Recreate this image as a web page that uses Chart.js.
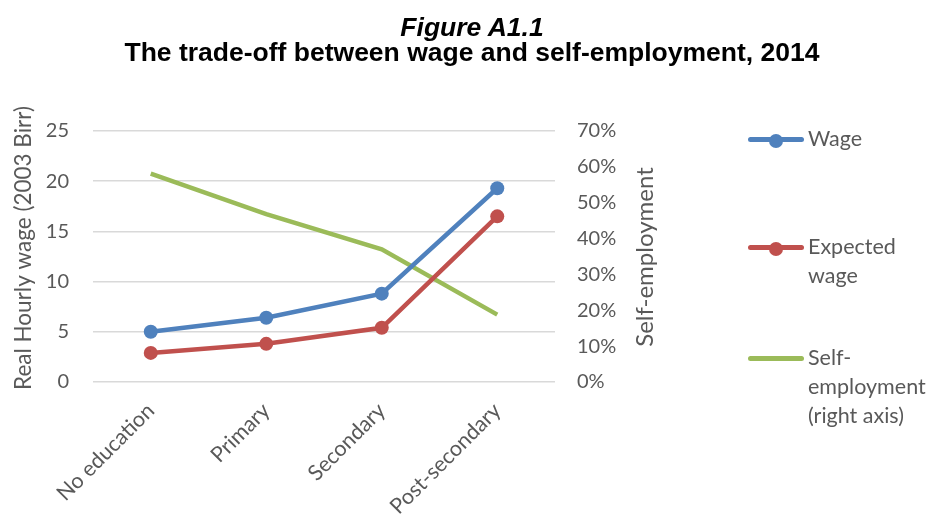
<!DOCTYPE html>
<html>
<head>
<meta charset="utf-8">
<script src="https://cdn.jsdelivr.net/npm/chart.js@4"></script>
<style>
  body { margin: 0; background: #fff; }
  #wrap { position: relative; width: 935px; height: 515px; overflow: hidden; }
  #title { position: absolute; left: 0; top: 15px; width: 944px; text-align: center;
           font-family: "Liberation Sans", Arial, sans-serif; font-weight: bold; font-size: 26.5px;
           line-height: 25px; color: #000; }
  #legend { position: absolute; left: 748px; top: 0; font-family: Lato, sans-serif;
            font-size: 21.5px; color: #595959; }
  .item { position: absolute; left: 0; width: 190px; }
  .swatch { position: absolute; left: 0; width: 56px; height: 5px; border-radius: 3px; }
  .dot { position: absolute; left: 21px; top: -5px; width: 14px; height: 14px; border-radius: 50%; }
  .txt { position: absolute; left: 60px; line-height: 29px; white-space: nowrap; }
</style>
</head>
<body>
<div id="wrap">
  <div id="title"><i>Figure A1.1</i><br>The trade-off between wage and self-employment, 2014</div>
  <canvas id="chart" width="935" height="515"></canvas>
  <div id="legend"></div>
</div>
<script>
const categories = ['No education', 'Primary', 'Secondary', 'Post-secondary'];
const wage = [5.0, 6.4, 8.8, 19.3];
const expectedWage = [2.9, 3.8, 5.4, 16.5];
const selfEmployment = [58.1, 46.8, 37.0, 18.8];
const leftTicks = [0, 5, 10, 15, 20, 25];
const rightTicks = [0, 10, 20, 30, 40, 50, 60, 70];

const txtColor = '#595959';
const gridColor = '#D9D9D9';
const tickFont = { family: 'Lato', size: 20 };

// axis titles: both read bottom to top, placed like the original
const axisTitles = {
    id: 'axisTitles',
    afterDraw(chart) {
        const ctx = chart.ctx;
        const drawUp = (text, x, y, size) => {
            ctx.save();
            ctx.translate(x, y);
            ctx.rotate(-Math.PI / 2);
            ctx.font = size + 'px Lato';
            ctx.fillStyle = txtColor;
            ctx.textAlign = 'center';
            ctx.textBaseline = 'middle';
            ctx.fillText(text, 0, 0);
            ctx.restore();
        };
        drawUp('Real Hourly wage (2003 Birr)', 24, 248, 22.5);
        drawUp('Self-employment', 645, 257, 24);
    }
};

const chart = new Chart(document.getElementById('chart'), {
    type: 'line',
    data: {
        labels: categories,
        datasets: [{
            label: 'Wage',
            data: wage,
            borderColor: '#4F81BD',
            backgroundColor: '#4F81BD',
            borderWidth: 4.5,
            pointRadius: 7,
            pointBorderWidth: 0,
            yAxisID: 'y'
        }, {
            label: 'Expected wage',
            data: expectedWage,
            borderColor: '#C0504D',
            backgroundColor: '#C0504D',
            borderWidth: 4.5,
            pointRadius: 7,
            pointBorderWidth: 0,
            yAxisID: 'y'
        }, {
            label: 'Self-employment (right axis)',
            data: selfEmployment,
            borderColor: '#9BBB59',
            backgroundColor: '#9BBB59',
            borderWidth: 4.5,
            pointRadius: 0,
            yAxisID: 'y1'
        }]
    },
    options: {
        responsive: false,
        animation: false,
        layout: { padding: { top: 131, left: 0, right: 270, bottom: 0 } },
        plugins: {
            legend: { display: false },
            tooltip: { enabled: false }
        },
        scales: {
            x: {
                offset: true,
                grid: { display: false, drawTicks: false },
                border: { display: false },
                ticks: { color: txtColor, font: { family: 'Lato', size: 21.5 },
                         minRotation: 45, maxRotation: 45, padding: 16 },
                afterFit: s => { s.height = 133; }
            },
            y: {
                position: 'left',
                min: 0,
                max: 25,
                afterBuildTicks: s => { s.ticks = leftTicks.map(v => ({ value: v })); },
                grid: { color: gridColor, lineWidth: 1.5, drawTicks: false },
                border: { display: false },
                ticks: { color: txtColor, font: tickFont, padding: 24 },
                afterFit: s => { s.width = 93; }
            },
            y1: {
                position: 'right',
                min: 0,
                max: 70,
                afterBuildTicks: s => { s.ticks = rightTicks.map(v => ({ value: v })); },
                grid: { display: false, drawTicks: false },
                border: { display: false },
                ticks: { color: txtColor, font: tickFont, padding: 22, callback: v => v + '%' },
                afterFit: s => { s.width = 110; }
            }
        }
    },
    plugins: [axisTitles]
});

// legend built from the datasets
const legendLines = [['Wage'], ['Expected', 'wage'], ['Self-', 'employment', '(right axis)']];
const legendTops = [139, 247, 358];
const legend = document.getElementById('legend');
chart.data.datasets.forEach((ds, i) => {
    const item = document.createElement('div');
    item.className = 'item';
    item.style.top = legendTops[i] + 'px';
    let html = '<div class="swatch" style="top:-2px;background:' + ds.borderColor + '"></div>';
    if (ds.pointRadius > 0) {
        html += '<div class="dot" style="background:' + ds.backgroundColor + '"></div>';
    }
    html += '<div class="txt" style="top:-15px">' + legendLines[i].join('<br>') + '</div>';
    item.innerHTML = html;
    legend.appendChild(item);
});
</script>
</body>
</html>
